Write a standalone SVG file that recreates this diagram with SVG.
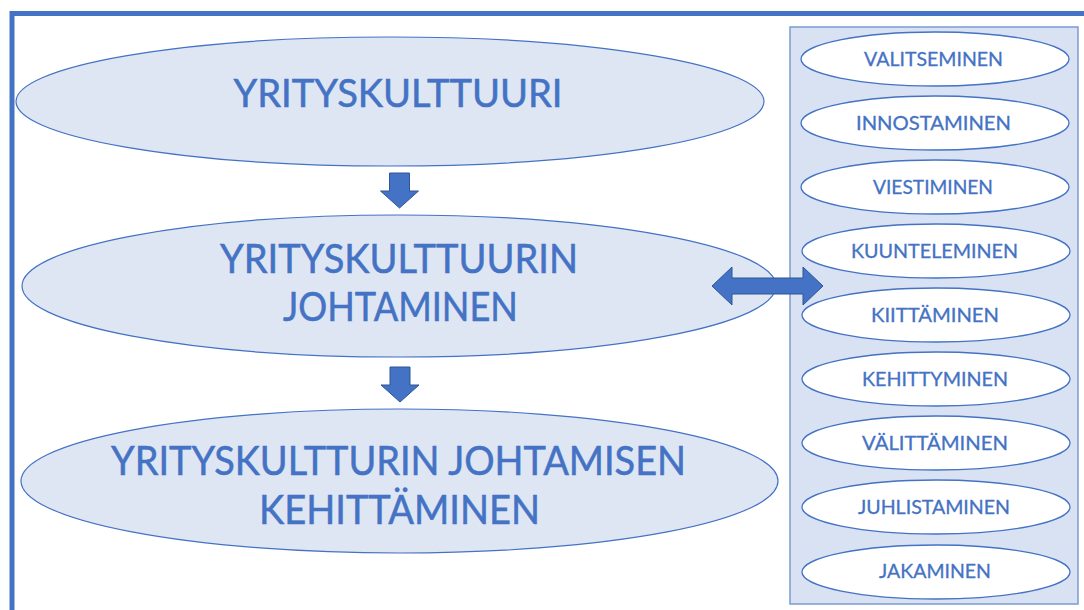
<svg xmlns="http://www.w3.org/2000/svg" width="1084" height="610" viewBox="0 0 1084 610">
<style>
.big{fill:#dfe6f3;stroke:#4472c4;stroke-width:1.2}
.small{fill:#ffffff;stroke:#4472c4;stroke-width:1.3}
.t{font-family:"Lato","Open Sans","DejaVu Sans",sans-serif;fill:#4472c4;stroke:#4472c4;text-anchor:middle}
.tb{font-size:38px;stroke-width:0.55}
.ts{font-size:19px;stroke-width:0.3}
.arr{fill:#4472c4;stroke:#2f5597;stroke-width:1}
</style>
<rect x="0" y="0" width="1084" height="610" fill="#ffffff"/>
<rect id="frame" x="12" y="13.5" width="1100" height="700" fill="none" stroke="#4472c4" stroke-width="5"/>
<g id="panel">
<rect x="790" y="27" width="288" height="577" fill="#d9e2f3" stroke="#7c9bd0" stroke-width="1.5"/>
</g>
<g id="n1">
<ellipse class="big" cx="390" cy="101.5" rx="374" ry="64.5"/>
<text class="t tb" x="398" y="107" textLength="329" lengthAdjust="spacingAndGlyphs">YRITYSKULTTUURI</text>
</g>
<g id="n2">
<ellipse class="big" cx="399" cy="286" rx="377" ry="71"/>
<text class="t tb" x="399" y="273" textLength="358" lengthAdjust="spacingAndGlyphs" style="font-size:41px">YRITYSKULTTUURIN</text>
<text class="t tb" x="400.5" y="321" textLength="235" lengthAdjust="spacingAndGlyphs" style="font-size:41px">JOHTAMINEN</text>
</g>
<g id="n3">
<ellipse class="big" cx="399.5" cy="481" rx="378.5" ry="72"/>
<text class="t tb" x="398.5" y="475" textLength="575" lengthAdjust="spacingAndGlyphs" style="font-size:41px">YRITYSKULTTURIN JOHTAMISEN</text>
<text class="t tb" x="399.5" y="524" textLength="281" lengthAdjust="spacingAndGlyphs" style="font-size:41px">KEHITTÄMINEN</text>
</g>
<g id="s1"><ellipse class="small" cx="935" cy="59" rx="134" ry="27"/><text class="t ts" x="933.5" y="65.5" textLength="139" lengthAdjust="spacingAndGlyphs">VALITSEMINEN</text></g>
<g id="s2"><ellipse class="small" cx="935" cy="123" rx="134" ry="27"/><text class="t ts" x="933.5" y="129.5" textLength="155" lengthAdjust="spacingAndGlyphs">INNOSTAMINEN</text></g>
<g id="s3"><ellipse class="small" cx="935" cy="187" rx="134" ry="27"/><text class="t ts" x="933" y="193.5" textLength="120" lengthAdjust="spacingAndGlyphs">VIESTIMINEN</text></g>
<g id="s4"><ellipse class="small" cx="936" cy="251" rx="134" ry="27"/><text class="t ts" x="934.5" y="257.5" textLength="167" lengthAdjust="spacingAndGlyphs">KUUNTELEMINEN</text></g>
<g id="s5"><ellipse class="small" cx="936" cy="315" rx="134" ry="27"/><text class="t ts" x="935" y="321.5" textLength="128" lengthAdjust="spacingAndGlyphs">KIITTÄMINEN</text></g>
<g id="s6"><ellipse class="small" cx="936" cy="379" rx="134" ry="27"/><text class="t ts" x="935" y="385.5" textLength="146" lengthAdjust="spacingAndGlyphs">KEHITTYMINEN</text></g>
<g id="s7"><ellipse class="small" cx="936" cy="443" rx="134" ry="27"/><text class="t ts" x="935" y="449.5" textLength="146" lengthAdjust="spacingAndGlyphs">VÄLITTÄMINEN</text></g>
<g id="s8"><ellipse class="small" cx="936" cy="507" rx="134" ry="27"/><text class="t ts" x="934" y="513.5" textLength="152" lengthAdjust="spacingAndGlyphs">JUHLISTAMINEN</text></g>
<g id="s9"><ellipse class="small" cx="936" cy="572" rx="134" ry="27"/><text class="t ts" x="935" y="578" textLength="112" lengthAdjust="spacingAndGlyphs">JAKAMINEN</text></g>
<g id="connectors">
<polygon class="arr" points="389.5,173 409.5,173 409.5,191 418.5,191 399.5,208 380.5,191 389.5,191"/>
<polygon class="arr" points="390,367 410,367 410,385 419,385 400,402 381,385 390,385"/>
<polygon class="arr" points="712,286 732,267 732,278 803,278 803,267 823,286 803,305 803,294 732,294 732,305"/>
</g>
</svg>
